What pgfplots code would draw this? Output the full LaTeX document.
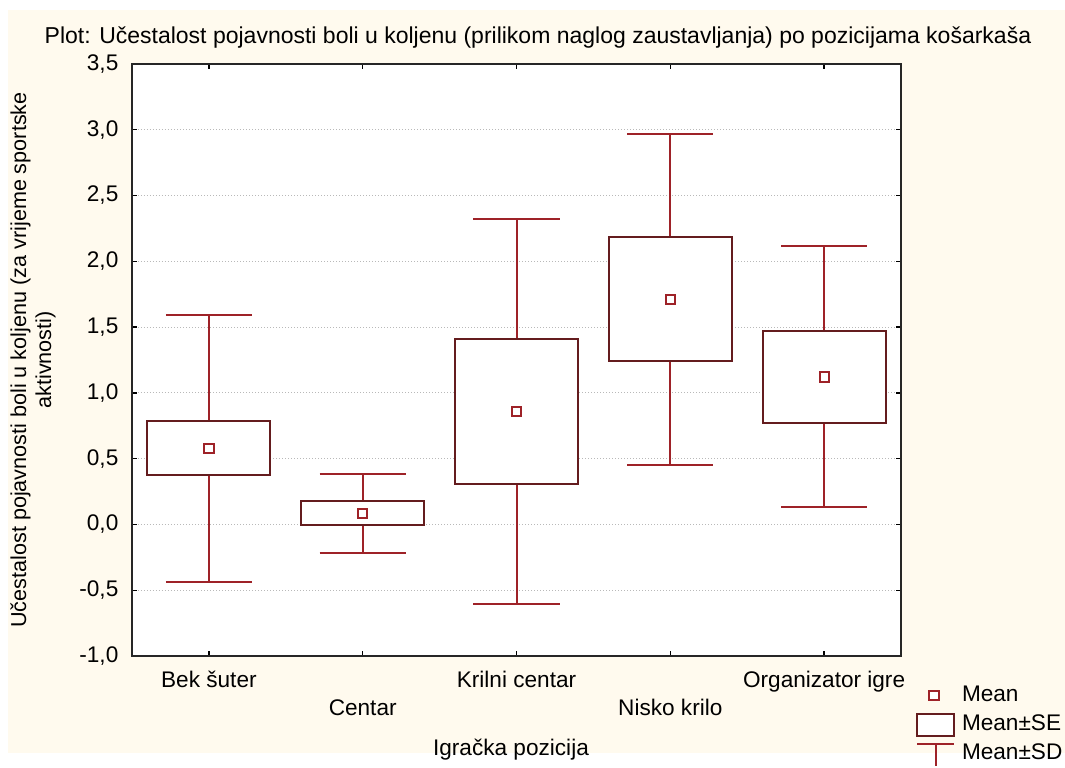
\documentclass[border=0pt]{standalone}
\usepackage{fontspec}
\setmainfont{Liberation Sans}
\usepackage{pgfplots}
\pgfplotsset{compat=1.18}
\usepgfplotslibrary{statistics}
\definecolor{cream}{RGB}{255,250,238}
\definecolor{boxc}{RGB}{100,28,30}
\definecolor{whc}{RGB}{158,34,40}
\definecolor{gridc}{RGB}{185,185,185}
\newcommand\lf{\fontsize{10.8pt}{12.5pt}\selectfont}
\newcommand\tf{\fontsize{11.3pt}{14pt}\selectfont}
\newcommand\gf{\fontsize{11.3pt}{13pt}\selectfont}
\begin{document}
\begin{tikzpicture}[font=\lf]
\begin{scope}[x=0.5pt,y=-0.5pt,shift={(-66pt,328pt)}]
\useasboundingbox (0,0) rectangle (1065,753);
\fill[white] (0,0) rectangle (1065,753);
\fill[cream] (8,10) rectangle (1065,753);
\end{scope}
\begin{axis}[
  at={(0,0)}, anchor=south west,
  scale only axis, width=384.5pt, height=296pt,
  xmin=-0.5, xmax=4.5, ymin=-1, ymax=3.5,
  axis background/.style={fill=white},
  axis line style={line width=1pt, black!85},
  xtick={0,1,2,3,4},
  xticklabels={{\strut Bek šuter},{\strut\\\strut Centar},{\strut Krilni centar},{\strut\\\strut Nisko krilo},{\strut Organizator igre}},
  xticklabel style={align=center, font=\tf, yshift=-2.4pt},
  ytick={-1,-0.5,0,0.5,1,1.5,2,2.5,3,3.5},
  yticklabels={{-1,0},{-0,5},{0,0},{0,5},{1,0},{1,5},{2,0},{2,5},{3,0},{3,5}},
  yticklabel style={font=\tf, xshift=-3.3pt},
  tick align=inside, major tick length=2.5pt,
  tick style={black, line width=0.7pt},
  ymajorgrids, grid style={gridc, line width=0.5pt, dash pattern=on 0.5pt off 1pt},
  boxplot/draw direction=y,
  boxplot/draw/median/.code={},
  boxplot/every box/.style={draw=boxc, line width=1pt, fill=white},
  boxplot/every whisker/.style={draw=whc, line width=1pt},
  legend style={at={(rel axis cs:1.019,-0.045)}, anchor=north west, draw=none, fill=none,
    inner sep=0pt, row sep=1.8pt, font=\gf,
    nodes={inner sep=1pt, text height=8.2pt, text depth=2.5pt},
    /tikz/every odd column/.append style={column sep=2.5pt}},
  legend cell align=left,
]
\addplot[forget plot, boxplot prepared={draw position=0, lower whisker=-0.435, lower quartile=0.373, median=0.58, upper quartile=0.786, upper whisker=1.593, box extend=0.8, whisker extend=0.56}] coordinates {};
\addplot[forget plot, boxplot prepared={draw position=1, lower whisker=-0.217, lower quartile=-0.006, median=0.085, upper quartile=0.18, upper whisker=0.385, box extend=0.8, whisker extend=0.56}] coordinates {};
\addplot[forget plot, boxplot prepared={draw position=2, lower whisker=-0.603, lower quartile=0.306, median=0.857, upper quartile=1.407, upper whisker=2.318, box extend=0.8, whisker extend=0.56}] coordinates {};
\addplot[forget plot, boxplot prepared={draw position=3, lower whisker=0.45, lower quartile=1.242, median=1.71, upper quartile=2.184, upper whisker=2.964, box extend=0.8, whisker extend=0.56}] coordinates {};
\addplot[forget plot, boxplot prepared={draw position=4, lower whisker=0.133, lower quartile=0.77, median=1.12, upper quartile=1.47, upper whisker=2.116, box extend=0.8, whisker extend=0.56}] coordinates {};
\addplot[only marks, mark=square*, mark size=2.3pt, mark options={draw=whc, fill=white, line width=1pt}]
  coordinates {(0,0.58) (1,0.085) (2,0.857) (3,1.71) (4,1.12)};
\addlegendentry{Mean}
\addlegendimage{legend image code/.code={\draw[boxc, line width=1pt, fill=white] (0pt,-5.5pt) rectangle (18.5pt,5.5pt);}}
\addlegendentry{Mean±SE}
\addlegendimage{legend image code/.code={\draw[whc, line width=1pt] (0pt,5pt) -- (18.5pt,5pt) (9.25pt,5pt) -- (9.25pt,-6pt);}}
\addlegendentry{Mean±SD}
\end{axis}
\begin{scope}[x=0.5pt,y=-0.5pt,shift={(-66pt,328pt)}]
\node[anchor=center, font=\fontsize{11.5pt}{13pt}\selectfont] at (538,38) {Plot: Učestalost pojavnosti boli u koljenu (prilikom naglog zaustavljanja) po pozicijama košarkaša};
\node[rotate=90, align=center, anchor=center] at (33,360) {Učestalost pojavnosti boli u koljenu (za vrijeme sportske\\aktivnosti)};
\node[anchor=base, font=\gf] at (511,756) {Igračka pozicija};
\end{scope}
\end{tikzpicture}
\end{document}
